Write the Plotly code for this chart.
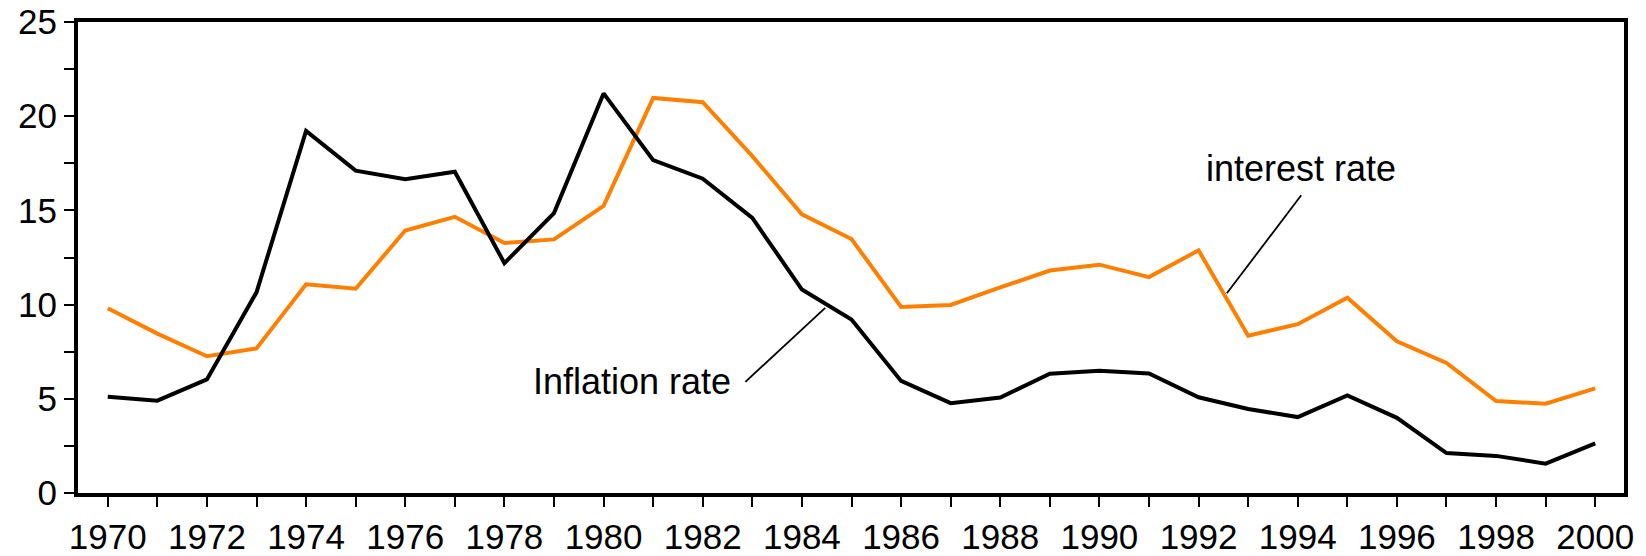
import plotly.graph_objects as go

years = list(range(1970, 2001))
inflation_rate = [5.11, 4.90, 6.03, 10.65, 19.22, 17.11, 16.66, 17.05, 12.20, 14.86,
                  21.21, 17.67, 16.68, 14.60, 10.80, 9.21, 5.95, 4.77, 5.07, 6.33,
                  6.49, 6.34, 5.08, 4.46, 4.03, 5.18, 3.99, 2.12, 1.97, 1.56, 2.63]
interest_rate = [9.81, 8.46, 7.26, 7.67, 11.08, 10.84, 13.93, 14.66, 13.27, 13.46,
                 15.24, 20.97, 20.74, 17.88, 14.79, 13.48, 9.87, 9.98, 10.91, 11.81,
                 12.12, 11.46, 12.88, 8.35, 8.96, 10.37, 8.05, 6.90, 4.88, 4.74, 5.55]
x_tick_labels = [str(y) for y in range(1970, 2001, 2)]
y_tick_labels = ["0", "5", "10", "15", "20", "25"]

FONT = "Liberation Sans, Arial, Helvetica, sans-serif"
ORANGE = "#FF8000"

fig = go.Figure()
fig.add_trace(go.Scatter(x=years, y=interest_rate, mode="lines",
                         line=dict(color=ORANGE, width=4), name="interest rate",
                         hoverinfo="skip"))
fig.add_trace(go.Scatter(x=years, y=inflation_rate, mode="lines",
                         line=dict(color="black", width=4), name="Inflation rate",
                         hoverinfo="skip"))

# leader lines for labels
fig.add_shape(type="line", xref="x", yref="y", x0=1982.86, y0=5.90, x1=1984.47, y1=9.83,
              line=dict(color="black", width=1.8))
fig.add_shape(type="line", xref="x", yref="y", x0=1992.57, y0=10.6, x1=1994.07, y1=15.8,
              line=dict(color="black", width=1.8))

fig.add_annotation(x=1980.57, y=5.93, xref="x", yref="y", text="Inflation rate",
                   showarrow=False, font=dict(family=FONT, size=36, color="black"),
                   xanchor="center", yanchor="middle")
fig.add_annotation(x=1994.07, y=17.22, xref="x", yref="y", text="interest rate",
                   showarrow=False, font=dict(family=FONT, size=36, color="black"),
                   xanchor="center", yanchor="middle")

fig.update_layout(
    width=1646, height=556,
    margin=dict(l=78, r=22, t=22, b=63, autoexpand=False),
    paper_bgcolor="white", plot_bgcolor="white",
    showlegend=False,
    hovermode=False,
    font=dict(family=FONT, size=35, color="black"),
)
fig.update_xaxes(
    automargin=False,
    range=[1969.40, 2000.58],
    tickvals=list(range(1970, 2001, 2)), ticktext=x_tick_labels,
    ticks="outside", ticklen=10, tickwidth=2, tickcolor="black",
    minor=dict(dtick=1, tick0=1970, ticks="outside", ticklen=10, tickwidth=2, tickcolor="black", showgrid=False),
    showline=True, linecolor="black", linewidth=4, mirror=True,
    showgrid=False, zeroline=False,
    tickfont=dict(family=FONT, size=35, color="black"),
)
fig.update_yaxes(
    automargin=False,
    range=[0, 25],
    tickvals=[0, 5, 10, 15, 20, 25], ticktext=y_tick_labels,
    ticks="outside", ticklen=10, tickwidth=2, tickcolor="black",
    minor=dict(dtick=2.5, tick0=0, ticks="outside", ticklen=10, tickwidth=2, tickcolor="black", showgrid=False),
    showline=True, linecolor="black", linewidth=4, mirror=True,
    showgrid=False, zeroline=False,
    tickfont=dict(family=FONT, size=35, color="black"),
)

fig.write_html("out.html", config={"displayModeBar": False, "staticPlot": True},
               post_script="document.body.style.margin='0';document.body.style.overflow='hidden';")
